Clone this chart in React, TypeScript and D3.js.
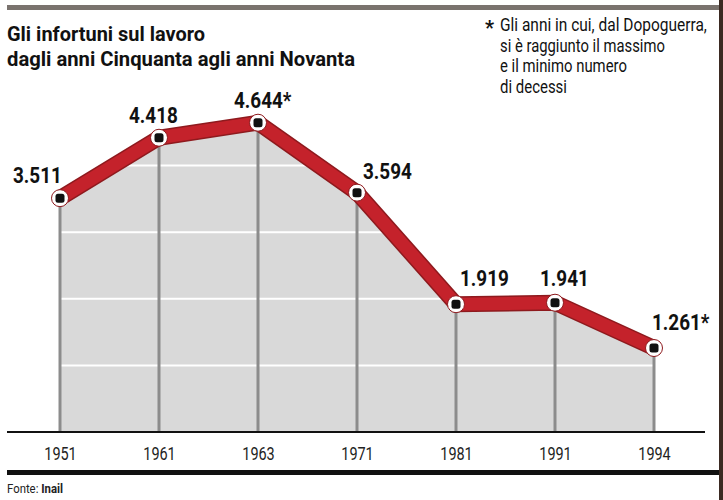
import { useEffect, useRef } from "react";
import * as d3 from "d3";

const years = ["1951", "1961", "1963", "1971", "1981", "1991", "1994"];
const deaths = [3511, 4418, 4644, 3594, 1919, 1941, 1261];
const labels = ["3.511", "4.418", "4.644*", "3.594", "1.919", "1.941", "1.261*"];
const gridValues = [1000, 2000, 3000, 4000];

const titleLines = ["Gli infortuni sul lavoro", "dagli anni Cinquanta agli anni Novanta"];
const noteLines = [
  "Gli anni in cui, dal Dopoguerra,",
  "si è raggiunto il massimo",
  "e il minimo numero",
  "di decessi",
];

const W = 723;
const H = 500;
const FONT = "Roboto, 'Noto Sans', sans-serif";

// label placement around each point: [dx, dy] from marker to label's left baseline
const labelPos: [number, number][] = [
  [-47, -15],
  [-30, -15],
  [-24, -15],
  [6, -14],
  [4, -18],
  [-15, -17],
  [-2, -18],
];

// squeeze a text horizontally to imitate the condensed face of the original
function condense(sel: d3.Selection<SVGTextElement, any, any, any>, factor: number) {
  sel.each(function () {
    const w = this.getComputedTextLength();
    d3.select(this).attr("textLength", w * factor).attr("lengthAdjust", "spacingAndGlyphs");
  });
}

export default function App() {
  const ref = useRef<SVGSVGElement | null>(null);

  useEffect(() => {
    if (!ref.current) return;
    const svg = d3.select(ref.current);
    svg.selectAll("*").remove();

    const x = d3.scalePoint<string>().domain(years).range([60, 654]);
    const y = d3.scaleLinear().domain([0, 5000]).range([432, 99]);

    const pts = deaths.map((d, i) => ({ year: years[i], value: d, label: labels[i] }));

    // frame bits
    svg.append("rect").attr("x", 0).attr("y", 0).attr("width", W).attr("height", H).attr("fill", "#fff");
    svg.append("rect").attr("x", 7).attr("y", 5).attr("width", 713).attr("height", 5).attr("fill", "#7a736e");
    svg.append("rect").attr("x", 719).attr("y", 0).attr("width", 4).attr("height", H).attr("fill", "#3b2a22");

    // title
    svg
      .selectAll("text.title")
      .data(titleLines)
      .join("text")
      .attr("class", "title")
      .attr("x", 7)
      .attr("y", (_, i) => 40.5 + i * 25)
      .attr("font-family", FONT)
      .attr("font-weight", "bold")
      .attr("font-size", 20)
      .attr("fill", "#111")
      .attr("textLength", (_, i) => (i === 0 ? 198 : 348))
      .attr("lengthAdjust", "spacingAndGlyphs")
      .text((d) => d);

    // footnote
    svg
      .append("text")
      .attr("x", 485)
      .attr("y", 35)
      .attr("font-family", FONT)
      .attr("font-weight", "bold")
      .attr("font-size", 20)
      .attr("fill", "#111")
      .text("*");
    const noteWidths = [207, 165, 127, 67];
    svg
      .selectAll<SVGTextElement, string>("text.note")
      .data(noteLines)
      .join("text")
      .attr("class", "note")
      .attr("font-family", FONT)
      .attr("font-size", 17.5)
      .attr("fill", "#111")
      .text((d) => d)
      .each(function (_, i) {
        const k = noteWidths[i] / this.getComputedTextLength();
        d3.select(this).attr("transform", `translate(500,${31 + i * 20.7}) scale(${k},1)`);
      });

    const area = d3
      .area<(typeof pts)[number]>()
      .x((d) => x(d.year)!)
      .y0(y(0))
      .y1((d) => y(d.value));
    const line = d3
      .line<(typeof pts)[number]>()
      .x((d) => x(d.year)!)
      .y((d) => y(d.value));

    svg
      .append("defs")
      .append("clipPath")
      .attr("id", "areaClip")
      .append("path")
      .attr("d", area(pts) || "");

    svg.append("path").attr("d", area(pts) || "").attr("fill", "#d9d9d9");

    const g = svg.append("g").attr("clip-path", "url(#areaClip)");
    g.selectAll("line")
      .data(gridValues)
      .join("line")
      .attr("x1", 0)
      .attr("x2", W)
      .attr("y1", (d) => y(d))
      .attr("y2", (d) => y(d))
      .attr("stroke", "#fff")
      .attr("stroke-width", 2);

    svg
      .selectAll("line.drop")
      .data(pts)
      .join("line")
      .attr("class", "drop")
      .attr("x1", (d) => x(d.year)!)
      .attr("x2", (d) => x(d.year)!)
      .attr("y1", (d) => y(d.value))
      .attr("y2", y(0))
      .attr("stroke", "#8c8c8c")
      .attr("stroke-width", 3);

    // axis baseline
    svg.append("line").attr("x1", 7).attr("x2", 705).attr("y1", y(0)).attr("y2", y(0)).attr("stroke", "#111").attr("stroke-width", 2);

    // thick red line
    svg
      .append("path")
      .attr("d", line(pts) || "")
      .attr("fill", "none")
      .attr("stroke", "#8e1a1e")
      .attr("stroke-width", 16)
      .attr("stroke-linejoin", "round");
    svg
      .append("path")
      .attr("d", line(pts) || "")
      .attr("fill", "none")
      .attr("stroke", "#c4222b")
      .attr("stroke-width", 13)
      .attr("stroke-linejoin", "round");

    // markers
    const m = svg
      .selectAll("g.marker")
      .data(pts)
      .join("g")
      .attr("class", "marker")
      .attr("transform", (d) => `translate(${x(d.year)},${y(d.value)})`);
    m.append("circle").attr("r", 8.5).attr("fill", "#fff").attr("stroke", "#8e1a1e").attr("stroke-width", 1);
    m.append("rect").attr("x", -4.5).attr("y", -4.5).attr("width", 9).attr("height", 9).attr("rx", 2.5).attr("fill", "#111");

    // value labels
    const vals = svg
      .selectAll<SVGTextElement, (typeof pts)[number]>("text.val")
      .data(pts)
      .join("text")
      .attr("class", "val")
      .attr("x", (d, i) => x(d.year)! + labelPos[i][0])
      .attr("y", (d, i) => y(d.value) + labelPos[i][1])
      .attr("font-family", FONT)
      .attr("font-weight", "bold")
      .attr("font-size", 22.5)
      .attr("fill", "#111")
      .text((d) => d.label);
    condense(vals, 0.84);

    // x axis labels
    const axis = d3.axisBottom(x).tickSize(0).tickPadding(0);
    const ax = svg.append("g").attr("transform", `translate(0,${y(0)})`).call(axis);
    ax.select(".domain").remove();
    const ticks = ax
      .selectAll<SVGTextElement, string>("text")
      .attr("dy", null)
      .attr("y", 28)
      .attr("font-family", FONT)
      .attr("font-size", 18.5)
      .attr("fill", "#222");
    condense(ticks, 0.78);

    // bottom bar and source
    svg.append("rect").attr("x", 7).attr("y", 470).attr("width", 712).attr("height", 5).attr("fill", "#111");
    const src = svg
      .append("text")
      .attr("x", 7)
      .attr("y", 493)
      .attr("font-family", FONT)
      .attr("font-size", 12)
      .attr("fill", "#222")
      .attr("textLength", 56)
      .attr("lengthAdjust", "spacingAndGlyphs");
    src.append("tspan").text("Fonte: ");
    src.append("tspan").attr("font-weight", "bold").text("Inail");
  }, []);

  return <svg ref={ref} width={W} height={H} style={{ position: "absolute", left: 0, top: 0 }} />;
}
